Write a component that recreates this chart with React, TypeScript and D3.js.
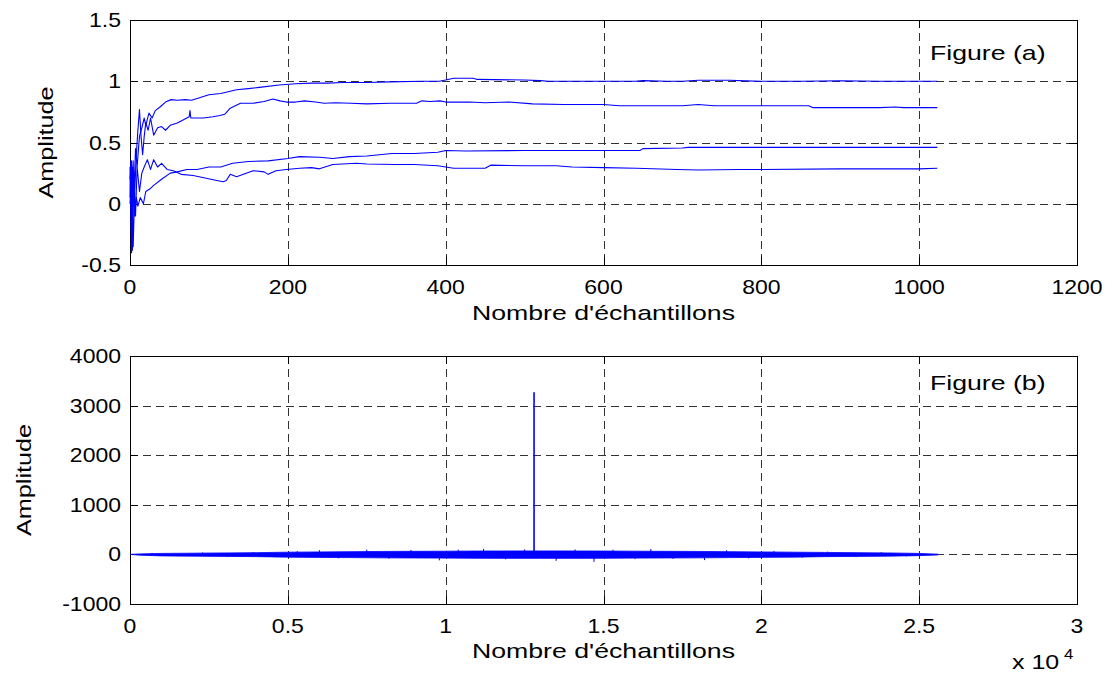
import React from 'react';
import * as d3 from 'd3';

const W = 1112;
const H = 675;

// ---- Tick values ----
const xTicksA = [0, 200, 400, 600, 800, 1000, 1200];
const yTicksA = [-0.5, 0, 0.5, 1, 1.5];
const xTicksB = [0, 0.5, 1, 1.5, 2, 2.5, 3];
const yTicksB = [-1000, 0, 1000, 2000, 3000, 4000];

// ---- Figure (a): four convergent curves [sample index, amplitude] ----
const curve1: [number, number][] = [
  [0, 0.05], [1, 0.35], [2, -0.2], [3, 0.3], [5, 0.1], [7, 0.45], [9, 0.3], [12, 0.55], [15, 0.62],
  [18, 0.7], [20, 0.64], [24, 0.74], [28, 0.7], [32, 0.76], [38, 0.79], [45, 0.83], [52, 0.85],
  [60, 0.845], [70, 0.85], [78, 0.845], [85, 0.86], [100, 0.89], [115, 0.9], [135, 0.93], [150, 0.94],
  [164, 0.95], [189, 0.97], [210, 0.98], [230, 0.985], [250, 0.985], [270, 0.99], [300, 0.99],
  [330, 0.995], [370, 1.0], [392, 1.0], [400, 1.01], [410, 1.025], [435, 1.025], [440, 1.015],
  [500, 1.01], [520, 1.005], [530, 1.0], [560, 1.0], [600, 1.0], [640, 1.0], [650, 1.005],
  [680, 1.0], [700, 1.0], [720, 1.008], [760, 1.008], [780, 1.003], [800, 1.0], [850, 1.0],
  [900, 1.004], [950, 1.0], [1000, 1.0], [1023, 1.0],
];
const curve2: [number, number][] = [
  [0, 0.2], [2, 0.35], [4, -0.35], [6, 0.1], [8, 0.4], [10, 0.6], [12, 0.77], [14, 0.55], [16, 0.4],
  [18, 0.55], [20, 0.66], [23, 0.6], [26, 0.7], [30, 0.56], [35, 0.62], [40, 0.63], [45, 0.6],
  [51, 0.64], [60, 0.66], [72, 0.7], [75, 0.71], [76, 0.76], [77, 0.7], [93, 0.7], [105, 0.71],
  [114, 0.72], [120, 0.73], [127, 0.78], [140, 0.82], [156, 0.82], [170, 0.835], [181, 0.855],
  [190, 0.84], [198, 0.83], [210, 0.83], [221, 0.84], [235, 0.83], [246, 0.82], [260, 0.825],
  [280, 0.82], [300, 0.815], [330, 0.82], [363, 0.82], [370, 0.84], [380, 0.835], [393, 0.84],
  [400, 0.83], [430, 0.83], [450, 0.825], [480, 0.83], [510, 0.815], [550, 0.81], [600, 0.81],
  [620, 0.8], [700, 0.8], [720, 0.81], [740, 0.8], [800, 0.8], [860, 0.8], [865, 0.785],
  [950, 0.785], [970, 0.79], [980, 0.785], [1023, 0.785],
];
const curve3: [number, number][] = [
  [0, 0.3], [2, -0.4], [4, 0.35], [6, -0.1], [8, 0.05], [10, -0.02], [13, 0.05], [17, 0.0],
  [20, 0.1], [25, 0.12], [30, 0.15], [40, 0.2], [51, 0.25], [60, 0.26], [72, 0.28], [85, 0.28],
  [100, 0.3], [115, 0.3], [130, 0.33], [150, 0.345], [175, 0.35], [200, 0.37], [215, 0.385],
  [240, 0.38], [257, 0.37], [278, 0.385], [300, 0.39], [332, 0.41], [360, 0.41], [390, 0.42],
  [400, 0.435], [425, 0.43], [500, 0.435], [600, 0.435], [646, 0.435], [650, 0.45], [700, 0.455],
  [707, 0.46], [800, 0.46], [1023, 0.46],
];
const curve4: [number, number][] = [
  [0, 0.0], [2, 0.25], [3, -0.38], [5, 0.2], [7, -0.1], [9, 0.3], [12, 0.1], [15, 0.25], [18, 0.3],
  [22, 0.36], [26, 0.28], [30, 0.36], [35, 0.3], [40, 0.33], [47, 0.28], [55, 0.27], [65, 0.24],
  [80, 0.23], [95, 0.21], [110, 0.19], [118, 0.18], [122, 0.19], [127, 0.24], [135, 0.22],
  [156, 0.27], [170, 0.26], [175, 0.24], [185, 0.27], [198, 0.28], [215, 0.29], [230, 0.295],
  [240, 0.285], [257, 0.32], [287, 0.33], [300, 0.325], [336, 0.32], [360, 0.32], [390, 0.31],
  [410, 0.29], [450, 0.29], [457, 0.315], [500, 0.31], [540, 0.31], [560, 0.3], [600, 0.295],
  [642, 0.29], [693, 0.28], [720, 0.275], [771, 0.28], [800, 0.28], [900, 0.285], [1000, 0.285],
  [1023, 0.29],
];
const curvesA = [curve1, curve2, curve3, curve4];

// ---- Figure (b): noise band envelope, isolated spikes, main peak ----
const noiseX = [0, 300, 1000, 2000, 3000, 4000, 5000, 6000, 7000, 8000, 9000, 10000, 11000, 12000,
  12800, 13000, 14000, 15000, 16000, 17000, 18000, 19000, 20000, 21000, 22000, 23000, 24000, 25000, 25600];
const noiseUpper = [0, 10, 20, 25, 30, 35, 45, 50, 55, 60, 62, 65, 68, 70, 70, 70, 70, 68, 65, 62,
  60, 55, 50, 45, 40, 35, 30, 20, 5];
const noiseLower = [0, -15, -30, -35, -40, -45, -55, -60, -65, -70, -72, -75, -78, -80, -80, -80,
  -80, -78, -75, -72, -70, -65, -60, -55, -45, -40, -35, -25, -10];
const spikeX = [700, 1500, 2300, 3100, 3900, 4600, 5300, 6000, 6600, 7500, 8200, 8900, 9800, 10400,
  11200, 11900, 12500, 13500, 14100, 14700, 15300, 16000, 16500, 17200, 18200, 18900, 19600, 20400,
  21300, 22100, 23000, 23800, 24600];
const spikeY = [30, -35, 40, -45, 45, -55, 65, 85, -80, 95, -85, 90, -120, 95, 110, -100, 100, -130,
  100, -150, 95, -95, 110, -90, -115, 85, -80, 70, -65, 55, -55, 45, -40];
const peakX = [12800];
const peakY = [3270];

const FONT = "'Liberation Sans', Arial, Helvetica, sans-serif";
const BLUE = '#0000ff';

function Txt(props: { x: number; y: number; size: number; sx?: number; anchor?: string; rotate?: boolean; children: any }) {
  const { x, y, size, sx = 1, anchor = 'start', rotate = false, children } = props;
  const tr = rotate ? `translate(${x},${y}) rotate(-90) scale(${sx},1)` : `translate(${x},${y}) scale(${sx},1)`;
  return (
    <text transform={tr} fontSize={size} fontFamily={FONT} textAnchor={anchor as any} fill="#000">
      {children}
    </text>
  );
}

type Box = { left: number; right: number; top: number; bottom: number };

function Frame(props: {
  box: Box;
  xs: d3.ScaleLinear<number, number>;
  ys: d3.ScaleLinear<number, number>;
  xTicks: number[];
  yTicks: number[];
  tickLen?: number;
}) {
  const { box, xs, ys, xTicks, yTicks, tickLen = 8 } = props;
  const grid = '#333';
  return (
    <g>
      {xTicks.map((t, i) => {
        const x = Math.round(xs(t)) + 0.5;
        return (
          <g key={'gx' + i}>
            {x > box.left + 1 && x < box.right - 1 && (
              <line x1={x} x2={x} y1={box.top} y2={box.bottom} stroke={grid} strokeDasharray="8,5" strokeWidth={1} />
            )}
            <line x1={x} x2={x} y1={box.bottom} y2={box.bottom - tickLen} stroke="#000" />
            <line x1={x} x2={x} y1={box.top} y2={box.top + tickLen} stroke="#000" />
          </g>
        );
      })}
      {yTicks.map((t, i) => {
        const y = Math.round(ys(t)) + 0.5;
        return (
          <g key={'gy' + i}>
            {y > box.top + 1 && y < box.bottom - 1 && (
              <line x1={box.left} x2={box.right} y1={y} y2={y} stroke={grid} strokeDasharray="8,5" strokeWidth={1} />
            )}
            <line x1={box.left} x2={box.left + tickLen} y1={y} y2={y} stroke="#000" />
            <line x1={box.right} x2={box.right - tickLen} y1={y} y2={y} stroke="#000" />
          </g>
        );
      })}
      <rect x={box.left + 0.5} y={box.top + 0.5} width={box.right - box.left} height={box.bottom - box.top}
        fill="none" stroke="#000" strokeWidth={1} />
    </g>
  );
}

export default function App() {
  const boxA: Box = { left: 130, right: 1077, top: 20, bottom: 265 };
  const boxB: Box = { left: 130, right: 1077, top: 356, bottom: 604 };

  const xA = d3.scaleLinear().domain([0, 1200]).range([boxA.left, boxA.right]);
  const yA = d3.scaleLinear().domain([-0.5, 1.5]).range([boxA.bottom, boxA.top]);
  const xB = d3.scaleLinear().domain([0, 30000]).range([boxB.left, boxB.right]);
  const yB = d3.scaleLinear().domain([-1000, 4000]).range([boxB.bottom, boxB.top]);

  const lineA = d3.line<[number, number]>().x((d) => xA(d[0])).y((d) => yA(d[1]));

  const noiseData = noiseX.map((x, i) => ({ x, hi: noiseUpper[i], lo: noiseLower[i] }));
  const areaB = d3.area<{ x: number; hi: number; lo: number }>()
    .x((d) => xB(d.x)).y0((d) => yB(d.lo)).y1((d) => yB(d.hi));

  const TS = 20; // tick font size
  const TSX = 1.15;
  const LS = 21; // label font size
  const LSX = 1.27;

  return (
    <svg width={W} height={H} style={{ position: 'absolute', left: 0, top: 0, background: '#fff' }}>
      <rect x={0} y={0} width={W} height={H} fill="#fff" />

      {/* ----- Figure (a) ----- */}
      <Frame box={boxA} xs={xA} ys={yA} xTicks={xTicksA} yTicks={yTicksA} />
      <g fill="none" stroke={BLUE} strokeWidth={1.1} strokeLinejoin="round">
        {curvesA.map((c, i) => (
          <path key={i} d={lineA(c) || ''} />
        ))}
      </g>
      {xTicksA.map((t, i) => (
        <Txt key={'xa' + i} x={xA(t)} y={294} size={TS} sx={TSX} anchor="middle">{String(t)}</Txt>
      ))}
      {yTicksA.map((t, i) => (
        <Txt key={'ya' + i} x={121} y={yA(t) + 7} size={TS} sx={TSX} anchor="end">{String(t)}</Txt>
      ))}
      <Txt x={(boxA.left + boxA.right) / 2} y={320} size={LS} sx={LSX} anchor="middle">Nombre d'échantillons</Txt>
      <Txt x={53} y={(boxA.top + boxA.bottom) / 2} size={LS} sx={1.2} anchor="middle" rotate>Amplitude</Txt>
      <Txt x={930} y={60} size={LS} sx={LSX}>Figure (a)</Txt>

      {/* ----- Figure (b) ----- */}
      <Frame box={boxB} xs={xB} ys={yB} xTicks={xTicksB.map((t) => t * 10000)} yTicks={yTicksB} />
      <path d={areaB(noiseData) || ''} fill={BLUE} stroke={BLUE} strokeWidth={0.8} />
      <g stroke={BLUE} strokeWidth={1}>
        {spikeX.map((x, i) => (
          <line key={'sp' + i} x1={xB(x)} x2={xB(x)} y1={yB(0)} y2={yB(spikeY[i])} />
        ))}
        {peakX.map((x, i) => (
          <line key={'pk' + i} x1={xB(x)} x2={xB(x)} y1={yB(0)} y2={yB(peakY[i])} strokeWidth={1.6} />
        ))}
      </g>
      {xTicksB.map((t, i) => (
        <Txt key={'xb' + i} x={xB(t * 10000)} y={633} size={TS} sx={TSX} anchor="middle">{String(t)}</Txt>
      ))}
      {yTicksB.map((t, i) => (
        <Txt key={'yb' + i} x={121} y={yB(t) + 7} size={TS} sx={TSX} anchor="end">{String(t)}</Txt>
      ))}
      <Txt x={(boxB.left + boxB.right) / 2} y={658} size={LS} sx={LSX} anchor="middle">Nombre d'échantillons</Txt>
      <Txt x={31} y={(boxB.top + boxB.bottom) / 2} size={LS} sx={1.2} anchor="middle" rotate>Amplitude</Txt>
      <Txt x={930} y={390} size={LS} sx={LSX}>Figure (b)</Txt>
      <Txt x={1012} y={669} size={20} sx={1.25}>x 10</Txt>
      <Txt x={1064} y={659} size={14} sx={1.2}>4</Txt>
    </svg>
  );
}
